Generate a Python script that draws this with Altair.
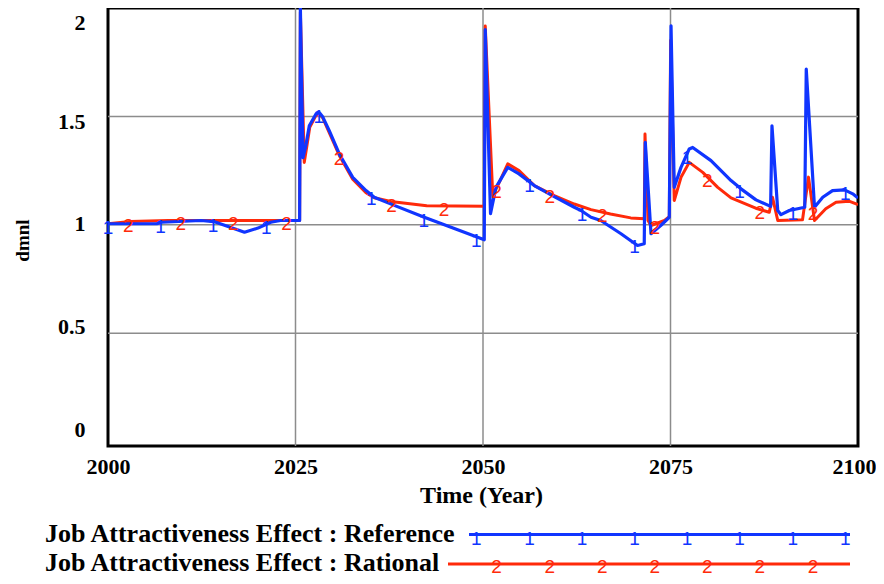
import altair as alt
import numpy as np
import pandas as pd

# ---- data ----
ref_years = [2000.0, 2006.5, 2007.2, 2012.4, 2014.1, 2016.2, 2018.2, 2020.0, 2021.7, 2023.0,
             2025.55, 2025.65, 2026.0, 2026.4, 2026.84, 2027.73, 2028.17, 2028.6, 2029.5, 2030.84,
             2032.63, 2034.4, 2035.5, 2038.0, 2042.17, 2046.0, 2050.17, 2050.3, 2051.0, 2051.73,
             2053.3, 2054.8, 2056.84, 2059.5, 2062.17, 2063.07, 2064.4, 2065.7, 2068.4, 2070.6,
             2071.5, 2071.64, 2072.4, 2073.7, 2074.84, 2075.07, 2075.5, 2076.4, 2077.5, 2077.96,
             2080.4, 2083.07, 2084.4, 2086.4, 2088.35, 2088.53, 2089.3, 2089.73, 2090.84, 2092.9,
             2093.1, 2094.2, 2095.3, 2096.6, 2098.2, 2099.3, 2100.0]
ref_vals = [1.005, 1.005, 1.012, 1.02, 1.015, 0.99, 0.966, 0.985, 1.012, 1.02,
            1.02, 2.0, 1.31, 1.37, 1.457, 1.511, 1.518, 1.50, 1.434, 1.327,
            1.219, 1.158, 1.127, 1.092, 1.035, 0.985, 0.931, 1.90, 1.052, 1.173,
            1.265, 1.235, 1.181, 1.13, 1.081, 1.066, 1.035, 1.02, 0.959, 0.905,
            0.913, 1.38, 0.959, 0.997, 1.035, 1.918, 1.173, 1.265, 1.35, 1.357,
            1.296, 1.204, 1.166, 1.115, 1.085, 1.457, 1.066, 1.047, 1.066, 1.081,
            1.718, 1.081, 1.127, 1.158, 1.161, 1.143, 1.124]

rat_years = [2000.0, 2003.0, 2008.0, 2025.55, 2025.65, 2026.17, 2026.5, 2026.9, 2027.73, 2028.17,
             2028.6, 2029.5, 2030.84, 2032.63, 2034.4, 2035.5, 2037.7, 2039.96, 2042.5, 2050.17,
             2050.3, 2051.3, 2052.17, 2053.3, 2054.8, 2056.84, 2059.5, 2062.17, 2064.4, 2067.0,
             2069.7, 2071.5, 2071.6, 2072.0, 2072.4, 2074.2, 2074.84, 2075.02, 2075.5, 2076.4,
             2077.5, 2079.3, 2081.3, 2083.07, 2086.6, 2088.17, 2088.6, 2089.3, 2092.6, 2093.4,
             2094.2, 2095.7, 2097.07, 2098.8, 2100.0]
rat_vals = [1.005, 1.015, 1.02, 1.02, 1.98, 1.288, 1.36, 1.45, 1.505, 1.512,
            1.495, 1.425, 1.32, 1.21, 1.148, 1.125, 1.108, 1.098, 1.088, 1.086,
            1.917, 1.135, 1.196, 1.281, 1.25, 1.181, 1.135, 1.096, 1.07, 1.05,
            1.032, 1.028, 1.419, 1.02, 0.997, 1.02, 1.038, 1.85, 1.112, 1.219,
            1.288, 1.242, 1.173, 1.124, 1.074, 1.058, 1.127, 1.02, 1.023, 1.22,
            1.02, 1.074, 1.104, 1.109, 1.093]

ref_marker_years = [2000.0, 2007.0, 2014.0, 2021.1, 2028.1, 2035.1, 2042.1, 2049.1,
                    2056.2, 2063.2, 2070.2, 2077.2, 2084.2, 2091.3, 2098.3]
rat_marker_years = [2002.7, 2009.7, 2016.7, 2023.8, 2030.8, 2037.8, 2044.8, 2051.8,
                    2058.9, 2065.9, 2072.9, 2079.9, 2086.9, 2094.0]

x_tick_values = [2000, 2025, 2050, 2075, 2100]
y_tick_values = [0, 0.5, 1, 1.5, 2]
x_grid = [2025, 2050, 2075]
y_grid = [0.5, 1, 1.5]

legend_labels = ["Job Attractiveness Effect : Reference", "Job Attractiveness Effect : Rational"]
marker_glyphs = ["1", "2"]
colors = ["#1035FF", "#FF2A0A"]

# ---- tables ----
ref_df = pd.DataFrame({"year": ref_years, "value": ref_vals})
rat_df = pd.DataFrame({"year": rat_years, "value": rat_vals})
ref_mk = pd.DataFrame({"year": ref_marker_years,
                       "value": np.interp(ref_marker_years, ref_years, ref_vals),
                       "g": marker_glyphs[0]})
rat_mk = pd.DataFrame({"year": rat_marker_years,
                       "value": np.interp(rat_marker_years, rat_years, rat_vals),
                       "g": marker_glyphs[1]})
ref_leg_mk = ref_mk.iloc[7:].copy()
rat_leg_mk = rat_mk.iloc[7:].copy()
gx = pd.DataFrame({"year": x_grid})
gy = pd.DataFrame({"value": y_grid})
leg_df = pd.DataFrame({"label": legend_labels})

W, H = 750, 438
x_scale = alt.Scale(domain=[2000, 2100], nice=False, zero=False)
y_scale = alt.Scale(domain=[-0.02, 2.0], nice=False, zero=False)

x_axis = alt.Axis(
    values=x_tick_values, format="d", title="Time (Year)",
    labelBaseline="alphabetic", labelPadding=27, labelAlign="center",
    labelOffset={"condition": {"test": "datum.value == 2100", "value": -4}, "value": 0},
    titleX=373, titleY=56, titleAlign="center", titleBaseline="alphabetic",
    titleFontSize=24,
)
y_axis = alt.Axis(
    values=y_tick_values, format="~g", title="dmnl", labelAlign="right", labelBaseline="middle",
    labelPadding=23,
    labelOffset={"condition": [
        {"test": "datum.value == 2", "value": 14},
        {"test": "datum.value == 1.5", "value": 5},
        {"test": "datum.value == 0.5", "value": -7},
        {"test": "datum.value == 0", "value": -12},
    ], "value": -1},
    titleAngle=270, titleX=-86, titleY=232, titleAlign="center", titleBaseline="middle",
    titleFontSize=19,
)

X = alt.X("year:Q", scale=x_scale, axis=x_axis)
Y = alt.Y("value:Q", scale=y_scale, axis=y_axis)

grid_v = alt.Chart(gx).mark_rule(color="#8c8c8c", strokeWidth=1.5).encode(x=X)
grid_h = alt.Chart(gy).mark_rule(color="#8c8c8c", strokeWidth=1.5).encode(y=Y)

red_line = alt.Chart(rat_df).mark_line(
    color=colors[1], strokeWidth=3, strokeJoin="round", clip=True
).encode(x=X, y=Y)
blue_line = alt.Chart(ref_df).mark_line(
    color=colors[0], strokeWidth=3.2, strokeJoin="round", clip=True
).encode(x=X, y=Y)

mk_style = dict(font="Liberation Sans", fontSize=19, baseline="alphabetic", align="center", dy=10)
red_mk = alt.Chart(rat_mk).mark_text(color=colors[1], **mk_style).encode(x=X, y=Y, text="g:N")
blue_mk = alt.Chart(ref_mk).mark_text(color=colors[0], **mk_style).encode(x=X, y=Y, text="g:N")

# legend (below the plot)
leg_style = dict(font="Liberation Serif", fontWeight="bold", fontSize=26, align="left",
                 baseline="alphabetic", color="black")
leg_text1 = alt.Chart(leg_df.iloc[[0]]).mark_text(**leg_style).encode(
    x=alt.value(-63), y=alt.value(534), text="label:N")
leg_text2 = alt.Chart(leg_df.iloc[[1]]).mark_text(**leg_style).encode(
    x=alt.value(-63), y=alt.value(563), text="label:N")
leg_line1 = alt.Chart(leg_df.iloc[[0]]).mark_rule(color=colors[0], strokeWidth=3).encode(
    x=alt.value(361), x2=alt.value(742), y=alt.value(526.5))
leg_line2 = alt.Chart(leg_df.iloc[[1]]).mark_rule(color=colors[1], strokeWidth=3).encode(
    x=alt.value(340), x2=alt.value(742), y=alt.value(556))
leg_mk1 = alt.Chart(ref_leg_mk).mark_text(color=colors[0], **mk_style).encode(
    x=X, y=alt.value(526.5), text="g:N")
leg_mk2 = alt.Chart(rat_leg_mk).mark_text(color=colors[1], fontSize=19, font="Liberation Sans",
                                          baseline="alphabetic", align="center", dy=9).encode(
    x=X, y=alt.value(556), text="g:N")

chart = alt.layer(
    grid_v, grid_h, red_line, blue_line, red_mk, blue_mk,
    leg_line1, leg_line2, leg_mk1, leg_mk2, leg_text1, leg_text2,
).properties(
    width=W, height=H,
    autosize=alt.AutoSizeParams(type="none"),
    padding={"left": 100, "top": 0, "right": 18, "bottom": 130},
    background="white",
).configure_view(
    stroke="black", strokeWidth=3,
).configure_axis(
    domain=False, ticks=False, tickSize=0, grid=False,
    labelFont="Liberation Serif", labelFontWeight="bold", labelFontSize=22, labelColor="black",
    titleFont="Liberation Serif", titleFontWeight="bold", titleColor="black",
)

chart.save("out.html", embed_options={"renderer": "svg", "actions": False})
